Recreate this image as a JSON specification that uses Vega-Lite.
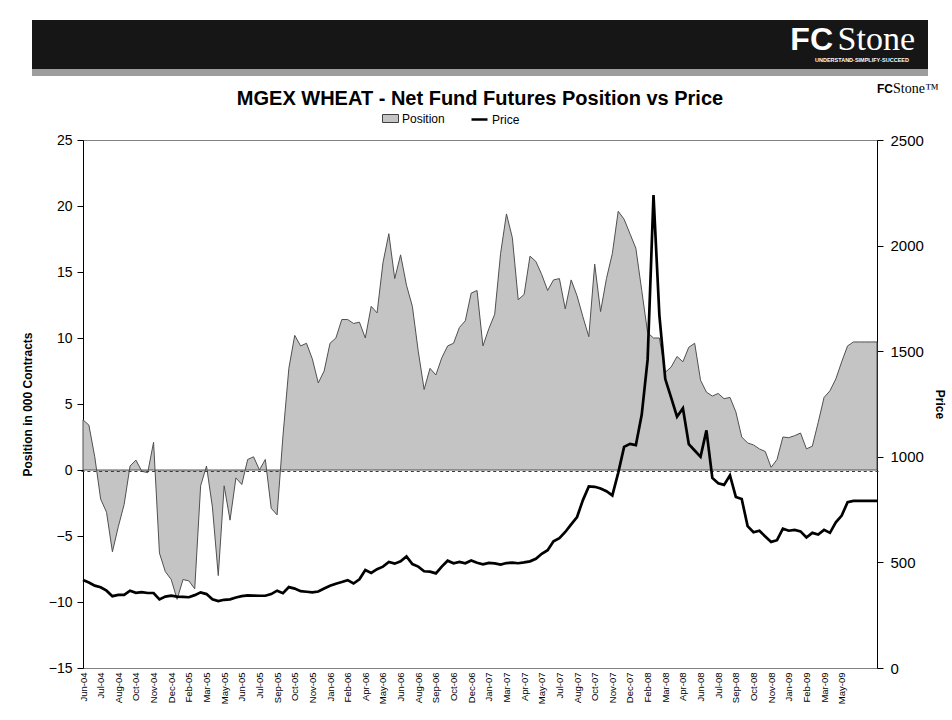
{
  "$schema": "https://vega.github.io/schema/vega-lite/v6.json",
  "padding": {"left": 20, "top": 20, "right": 0, "bottom": 0},
  "background": "white",
  "config": {"font": "Liberation Sans", "legend": {"layout": {"top": {"anchor": "middle", "direction": "horizontal", "margin": 25}}}},
  "spacing": 71,
  "center": true,
  "bounds": "flush",
  "resolve": {"scale": {"fill": "independent", "stroke": "independent"}, "legend": {"fill": "independent", "stroke": "independent"}},
  "datasets": {
    "wheat": [
      {"date": "2004-06-01", "position": 3.8, "price": 417},
      {"date": "2004-06-15", "position": 3.4, "price": 405},
      {"date": "2004-06-29", "position": 1.0, "price": 390},
      {"date": "2004-07-13", "position": -2.2, "price": 382},
      {"date": "2004-07-27", "position": -3.2, "price": 366},
      {"date": "2004-08-10", "position": -6.2, "price": 340},
      {"date": "2004-08-24", "position": -4.3, "price": 346},
      {"date": "2004-09-07", "position": -2.6, "price": 346},
      {"date": "2004-09-21", "position": 0.3, "price": 366},
      {"date": "2004-10-05", "position": 0.75, "price": 356},
      {"date": "2004-10-19", "position": -0.1, "price": 359},
      {"date": "2004-11-02", "position": -0.2, "price": 355},
      {"date": "2004-11-16", "position": 2.1, "price": 355},
      {"date": "2004-11-30", "position": -6.3, "price": 325},
      {"date": "2004-12-14", "position": -7.7, "price": 338},
      {"date": "2004-12-28", "position": -8.3, "price": 343},
      {"date": "2005-01-11", "position": -9.8, "price": 338},
      {"date": "2005-01-25", "position": -8.3, "price": 337},
      {"date": "2005-02-08", "position": -8.4, "price": 335},
      {"date": "2005-02-22", "position": -9.0, "price": 345},
      {"date": "2005-03-08", "position": -1.2, "price": 358},
      {"date": "2005-03-22", "position": 0.3, "price": 350},
      {"date": "2005-04-05", "position": -2.8, "price": 325},
      {"date": "2005-04-19", "position": -8.0, "price": 317},
      {"date": "2005-05-03", "position": -1.2, "price": 323},
      {"date": "2005-05-17", "position": -3.8, "price": 325},
      {"date": "2005-05-31", "position": -0.6, "price": 334},
      {"date": "2005-06-14", "position": -1.1, "price": 340},
      {"date": "2005-06-28", "position": 0.8, "price": 344},
      {"date": "2005-07-12", "position": 1.0, "price": 343},
      {"date": "2005-07-26", "position": 0.0, "price": 342},
      {"date": "2005-08-09", "position": 0.8, "price": 342},
      {"date": "2005-08-23", "position": -2.9, "price": 350},
      {"date": "2005-09-06", "position": -3.4, "price": 366},
      {"date": "2005-09-20", "position": 2.6, "price": 354},
      {"date": "2005-10-04", "position": 7.7, "price": 383},
      {"date": "2005-10-18", "position": 10.2, "price": 376},
      {"date": "2005-11-01", "position": 9.4, "price": 364},
      {"date": "2005-11-15", "position": 9.6, "price": 361},
      {"date": "2005-11-29", "position": 8.4, "price": 358},
      {"date": "2005-12-13", "position": 6.6, "price": 362},
      {"date": "2005-12-27", "position": 7.5, "price": 376},
      {"date": "2006-01-10", "position": 9.6, "price": 389},
      {"date": "2006-01-24", "position": 10.0, "price": 399},
      {"date": "2006-02-07", "position": 11.4, "price": 407},
      {"date": "2006-02-21", "position": 11.4, "price": 416},
      {"date": "2006-03-07", "position": 11.1, "price": 400},
      {"date": "2006-03-21", "position": 11.2, "price": 420},
      {"date": "2006-04-04", "position": 10.0, "price": 464},
      {"date": "2006-04-18", "position": 12.4, "price": 450},
      {"date": "2006-05-02", "position": 11.9, "price": 468},
      {"date": "2006-05-16", "position": 15.7, "price": 480},
      {"date": "2006-05-30", "position": 17.9, "price": 502},
      {"date": "2006-06-13", "position": 14.5, "price": 494},
      {"date": "2006-06-27", "position": 16.3, "price": 505},
      {"date": "2006-07-11", "position": 14.0, "price": 528},
      {"date": "2006-07-25", "position": 12.4, "price": 492},
      {"date": "2006-08-08", "position": 9.0, "price": 480},
      {"date": "2006-08-22", "position": 6.1, "price": 458},
      {"date": "2006-09-05", "position": 7.7, "price": 456},
      {"date": "2006-09-19", "position": 7.2, "price": 448},
      {"date": "2006-10-03", "position": 8.5, "price": 480},
      {"date": "2006-10-17", "position": 9.4, "price": 508},
      {"date": "2006-10-31", "position": 9.6, "price": 496},
      {"date": "2006-11-14", "position": 10.8, "price": 502},
      {"date": "2006-11-28", "position": 11.3, "price": 496},
      {"date": "2006-12-12", "position": 13.4, "price": 509},
      {"date": "2006-12-26", "position": 13.6, "price": 498},
      {"date": "2007-01-09", "position": 9.4, "price": 491},
      {"date": "2007-01-23", "position": 10.7, "price": 498},
      {"date": "2007-02-06", "position": 11.8, "price": 495},
      {"date": "2007-02-20", "position": 16.4, "price": 490},
      {"date": "2007-03-06", "position": 19.4, "price": 497},
      {"date": "2007-03-20", "position": 17.6, "price": 499},
      {"date": "2007-04-03", "position": 12.9, "price": 496},
      {"date": "2007-04-17", "position": 13.3, "price": 500},
      {"date": "2007-05-01", "position": 16.2, "price": 505},
      {"date": "2007-05-15", "position": 15.8, "price": 517},
      {"date": "2007-05-29", "position": 14.8, "price": 541},
      {"date": "2007-06-12", "position": 13.6, "price": 558},
      {"date": "2007-06-26", "position": 14.4, "price": 600},
      {"date": "2007-07-10", "position": 14.5, "price": 615},
      {"date": "2007-07-24", "position": 12.2, "price": 644},
      {"date": "2007-08-07", "position": 14.4, "price": 680},
      {"date": "2007-08-21", "position": 13.2, "price": 715},
      {"date": "2007-09-04", "position": 11.6, "price": 795},
      {"date": "2007-09-18", "position": 10.1, "price": 860},
      {"date": "2007-10-02", "position": 15.6, "price": 858},
      {"date": "2007-10-16", "position": 12.0, "price": 850},
      {"date": "2007-10-30", "position": 14.5, "price": 837},
      {"date": "2007-11-13", "position": 16.4, "price": 817},
      {"date": "2007-11-27", "position": 19.6, "price": 924},
      {"date": "2007-12-11", "position": 19.0, "price": 1047},
      {"date": "2007-12-25", "position": 17.9, "price": 1061},
      {"date": "2008-01-08", "position": 16.8, "price": 1055},
      {"date": "2008-01-22", "position": 13.6, "price": 1200},
      {"date": "2008-02-05", "position": 10.4, "price": 1460},
      {"date": "2008-02-19", "position": 10.0, "price": 2239},
      {"date": "2008-03-04", "position": 10.0, "price": 1670},
      {"date": "2008-03-18", "position": 7.4, "price": 1368},
      {"date": "2008-04-01", "position": 7.8, "price": 1280},
      {"date": "2008-04-15", "position": 8.6, "price": 1190},
      {"date": "2008-04-29", "position": 8.2, "price": 1230},
      {"date": "2008-05-13", "position": 9.3, "price": 1060},
      {"date": "2008-05-27", "position": 9.6, "price": 1030},
      {"date": "2008-06-10", "position": 6.8, "price": 1000},
      {"date": "2008-06-24", "position": 5.9, "price": 1125},
      {"date": "2008-07-08", "position": 5.6, "price": 900},
      {"date": "2008-07-22", "position": 5.8, "price": 875},
      {"date": "2008-08-05", "position": 5.4, "price": 867},
      {"date": "2008-08-19", "position": 5.5, "price": 912},
      {"date": "2008-09-02", "position": 4.4, "price": 810},
      {"date": "2008-09-16", "position": 2.5, "price": 800},
      {"date": "2008-09-30", "position": 2.05, "price": 672},
      {"date": "2008-10-14", "position": 1.9, "price": 643},
      {"date": "2008-10-28", "position": 1.6, "price": 650},
      {"date": "2008-11-11", "position": 1.4, "price": 623},
      {"date": "2008-11-25", "position": 0.2, "price": 597},
      {"date": "2008-12-09", "position": 0.8, "price": 605},
      {"date": "2008-12-23", "position": 2.5, "price": 660},
      {"date": "2009-01-06", "position": 2.45, "price": 650},
      {"date": "2009-01-20", "position": 2.6, "price": 654},
      {"date": "2009-02-03", "position": 2.8, "price": 647},
      {"date": "2009-02-17", "position": 1.6, "price": 618},
      {"date": "2009-03-03", "position": 1.8, "price": 640},
      {"date": "2009-03-17", "position": 3.6, "price": 632},
      {"date": "2009-03-31", "position": 5.5, "price": 654},
      {"date": "2009-04-14", "position": 6.0, "price": 640},
      {"date": "2009-04-28", "position": 6.9, "price": 690},
      {"date": "2009-05-12", "position": 8.2, "price": 722},
      {"date": "2009-05-26", "position": 9.4, "price": 785},
      {"date": "2009-06-09", "position": 9.7, "price": 791},
      {"date": "2009-06-23", "position": 9.7, "price": 791},
      {"date": "2009-07-07", "position": 9.7, "price": 791},
      {"date": "2009-07-21", "position": 9.7, "price": 791},
      {"date": "2009-08-04", "position": 9.7, "price": 791}
    ]
  },
  "vconcat": [
    {
      "width": 896,
      "height": 49,
      "view": {"fill": "#161616", "stroke": null},
      "data": {"values": [{"fc": "FC", "stone": "Stone", "small": "Stone™", "tag": "UNDERSTAND·SIMPLIFY·SUCCEED"}]},
      "layer": [
        {
          "mark": {"type": "rule", "color": "#9d9d9d", "strokeWidth": 7, "yOffset": 3.5},
          "encoding": {"x": {"value": 0}, "x2": {"value": "width"}, "y": {"value": "height"}}
        },
        {
          "mark": {"type": "text", "font": "Liberation Serif", "fontSize": 34, "color": "white", "align": "right", "baseline": "alphabetic", "dx": -13, "dy": 30},
          "encoding": {"text": {"field": "stone"}, "x": {"value": "width"}, "y": {"value": 0}}
        },
        {
          "mark": {"type": "text", "font": "Liberation Sans", "fontSize": 32, "fontWeight": "bold", "color": "white", "align": "right", "baseline": "alphabetic", "dx": -95, "dy": 30},
          "encoding": {"text": {"field": "fc"}, "x": {"value": "width"}, "y": {"value": 0}}
        },
        {
          "mark": {"type": "text", "font": "Liberation Sans", "fontSize": 5.5, "fontWeight": "bold", "color": "white", "align": "right", "baseline": "alphabetic", "dx": -19, "dy": 42},
          "encoding": {"text": {"field": "tag"}, "x": {"value": "width"}, "y": {"value": 0}}
        },
        {
          "mark": {"type": "text", "font": "Liberation Serif", "fontSize": 14, "color": "black", "align": "left", "baseline": "alphabetic", "dx": -35, "dy": 73},
          "encoding": {"text": {"field": "small"}, "x": {"value": "width"}, "y": {"value": 0}}
        },
        {
          "mark": {"type": "text", "font": "Liberation Sans", "fontSize": 12, "fontWeight": "bold", "color": "black", "align": "right", "baseline": "alphabetic", "dx": -35, "dy": 73},
          "encoding": {"text": {"field": "fc"}, "x": {"value": "width"}, "y": {"value": 0}}
        }
      ]
    },
    {
      "width": 794,
      "height": 528,
      "title": {"text": "MGEX WHEAT - Net Fund Futures Position vs Price", "fontSize": 20, "fontWeight": "bold", "font": "Liberation Sans", "color": "black", "offset": 1},
      "view": {"stroke": "#808080", "strokeWidth": 1},
      "data": {"name": "wheat"},
      "encoding": {
        "x": {
          "field": "date",
          "type": "temporal",
          "scale": {"type": "utc", "domain": [{"year": 2004, "month": 6, "date": 1, "utc": true}, {"year": 2009, "month": 8, "date": 4, "utc": true}]},
          "axis": {
            "title": null,
            "labelExpr": "utcFormat(datum.value, '%b-%y')",
            "labelAngle": -90,
            "labelFontSize": 9.5,
            "labelFont": "Liberation Sans",
            "labelColor": "black",
            "labelPadding": 4,
            "labelOverlap": false,
            "ticks": false,
            "grid": false,
            "domainColor": "#808080",
            "values": [
              {"year": 2004, "month": 6, "date": 1, "utc": true},
              {"year": 2004, "month": 7, "date": 13, "utc": true},
              {"year": 2004, "month": 8, "date": 24, "utc": true},
              {"year": 2004, "month": 10, "date": 5, "utc": true},
              {"year": 2004, "month": 11, "date": 16, "utc": true},
              {"year": 2004, "month": 12, "date": 28, "utc": true},
              {"year": 2005, "month": 2, "date": 8, "utc": true},
              {"year": 2005, "month": 3, "date": 22, "utc": true},
              {"year": 2005, "month": 5, "date": 3, "utc": true},
              {"year": 2005, "month": 6, "date": 14, "utc": true},
              {"year": 2005, "month": 7, "date": 26, "utc": true},
              {"year": 2005, "month": 9, "date": 6, "utc": true},
              {"year": 2005, "month": 10, "date": 18, "utc": true},
              {"year": 2005, "month": 11, "date": 29, "utc": true},
              {"year": 2006, "month": 1, "date": 10, "utc": true},
              {"year": 2006, "month": 2, "date": 21, "utc": true},
              {"year": 2006, "month": 4, "date": 4, "utc": true},
              {"year": 2006, "month": 5, "date": 16, "utc": true},
              {"year": 2006, "month": 6, "date": 27, "utc": true},
              {"year": 2006, "month": 8, "date": 8, "utc": true},
              {"year": 2006, "month": 9, "date": 19, "utc": true},
              {"year": 2006, "month": 10, "date": 31, "utc": true},
              {"year": 2006, "month": 12, "date": 12, "utc": true},
              {"year": 2007, "month": 1, "date": 23, "utc": true},
              {"year": 2007, "month": 3, "date": 6, "utc": true},
              {"year": 2007, "month": 4, "date": 17, "utc": true},
              {"year": 2007, "month": 5, "date": 29, "utc": true},
              {"year": 2007, "month": 7, "date": 10, "utc": true},
              {"year": 2007, "month": 8, "date": 21, "utc": true},
              {"year": 2007, "month": 10, "date": 2, "utc": true},
              {"year": 2007, "month": 11, "date": 13, "utc": true},
              {"year": 2007, "month": 12, "date": 25, "utc": true},
              {"year": 2008, "month": 2, "date": 5, "utc": true},
              {"year": 2008, "month": 3, "date": 18, "utc": true},
              {"year": 2008, "month": 4, "date": 29, "utc": true},
              {"year": 2008, "month": 6, "date": 10, "utc": true},
              {"year": 2008, "month": 7, "date": 22, "utc": true},
              {"year": 2008, "month": 9, "date": 2, "utc": true},
              {"year": 2008, "month": 10, "date": 14, "utc": true},
              {"year": 2008, "month": 11, "date": 25, "utc": true},
              {"year": 2009, "month": 1, "date": 6, "utc": true},
              {"year": 2009, "month": 2, "date": 17, "utc": true},
              {"year": 2009, "month": 3, "date": 31, "utc": true},
              {"year": 2009, "month": 5, "date": 12, "utc": true}
            ]
          }
        }
      },
      "layer": [
        {
          "layer": [
            {
              "mark": {"type": "area", "stroke": "#505050", "strokeWidth": 1},
              "encoding": {
                "y": {
                  "field": "position",
                  "type": "quantitative",
                  "scale": {"domain": [-15, 25], "nice": false, "zero": false},
                  "axis": {
                    "title": "Position in 000 Contracts",
                    "values": [-15, -10, -5, 0, 5, 10, 15, 20, 25],
                    "grid": false,
                    "domainColor": "black",
                    "tickColor": "black",
                    "tickSize": 6,
                    "labelPadding": 5,
                    "labelFontSize": 14,
                    "labelFont": "Liberation Sans",
                    "labelColor": "black",
                    "titleFontSize": 12,
                    "titleFontWeight": "bold",
                    "titleFont": "Liberation Sans",
                    "titleColor": "black",
                    "titlePadding": 14
                  }
                },
                "y2": {"datum": 0},
                "fill": {
                  "datum": "Position",
                  "type": "nominal",
                  "scale": {"domain": ["Position"], "range": ["#c4c4c4"]},
                  "legend": {
                    "title": null,
                    "orient": "top",
                    "offset": 14,
                    "labelFontSize": 12,
                    "labelFont": "Liberation Sans",
                    "labelColor": "black",
                    "symbolType": "M-1,-0.5H1V0.5H-1Z",
                    "symbolSize": 256,
                    "symbolStrokeColor": "#404040",
                    "symbolStrokeWidth": 1,
                    "symbolFillColor": "#c4c4c4",
                    "labelOffset": 3
                  }
                }
              }
            },
            {
              "mark": {"type": "rule", "color": "#3a3a3a", "strokeWidth": 1},
              "encoding": {"y": {"datum": 0, "type": "quantitative"}}
            },
            {
              "mark": {"type": "rule", "color": "#3a3a3a", "strokeWidth": 3, "strokeDash": [1, 1.94], "yOffset": 2},
              "encoding": {"y": {"datum": 0, "type": "quantitative"}}
            }
          ]
        },
        {
          "mark": {"type": "line", "strokeWidth": 2.7},
          "encoding": {
            "y": {
              "field": "price",
              "type": "quantitative",
              "scale": {"domain": [0, 2500], "nice": false},
              "axis": {
                "orient": "right",
                "title": "Price",
                "format": "d",
                "values": [0, 500, 1000, 1500, 2000, 2500],
                "grid": false,
                "domainColor": "black",
                "tickColor": "black",
                "tickSize": 6,
                "labelPadding": 7,
                "labelFontSize": 15,
                "labelFont": "Liberation Sans",
                "labelColor": "black",
                "titleFontSize": 12,
                "titleFontWeight": "bold",
                "titleFont": "Liberation Sans",
                "titleColor": "black",
                "titlePadding": 9
              }
            },
            "stroke": {
              "datum": "Price",
              "type": "nominal",
              "scale": {"domain": ["Price"], "range": ["#000000"]},
              "legend": {
                "title": " ",
                "titleOrient": "right",
                "titlePadding": 60,
                "titleFontSize": 12,
                "orient": "top",
                "offset": 14,
                "labelFontSize": 12,
                "labelFont": "Liberation Sans",
                "labelColor": "black",
                "symbolType": "stroke",
                "symbolSize": 256,
                "symbolStrokeWidth": 2.5,
                "labelOffset": 3
              }
            }
          }
        }
      ],
      "resolve": {"scale": {"y": "independent"}}
    }
  ]
}
